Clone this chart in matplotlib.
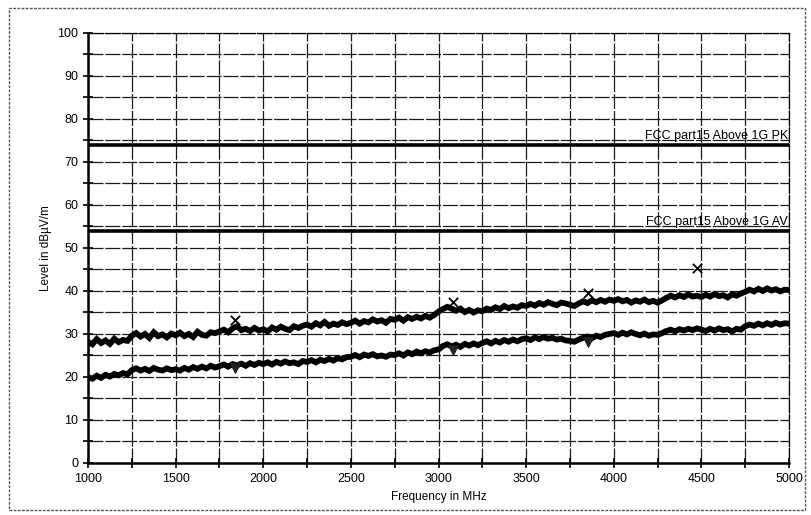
import numpy as np
import matplotlib.pyplot as plt
from matplotlib.patches import Rectangle

plt.rcParams['font.family'] = ['Liberation Sans', 'DejaVu Sans']

# frequency sweep, 25 MHz spacing between read-off points
freq = np.arange(1000, 5001, 25)

# peak trace (dBuV/m)
peak = [
    28.2, 27.6, 28.8, 27.9, 28.5, 27.7, 28.9, 28.1, 28.6, 28.4,
    29.6, 30.2, 29.4, 30.0, 29.1, 30.4, 29.5, 29.9, 29.2, 30.1,
    29.7, 30.3, 29.5, 30.0, 29.3, 30.5, 29.8, 29.6, 30.4, 30.2,
    30.6, 31.0, 30.4, 31.3, 31.8, 30.9, 31.2, 30.7, 31.4, 30.8,
    31.1, 30.6, 31.5, 31.0, 31.7, 31.2, 30.9, 31.8, 31.4, 31.9,
    32.2, 31.7, 32.5, 32.0, 32.8, 31.9, 32.4, 32.1, 32.7, 32.3,
    32.6, 33.1, 32.4, 33.0, 32.7, 33.4, 32.9, 33.2, 32.6, 33.5,
    33.3, 33.8, 33.1, 33.9, 33.5, 34.0, 33.6, 34.2, 33.8, 34.4,
    35.2, 35.8, 36.3, 35.9, 35.4, 35.9, 35.1, 35.6, 35.0, 35.5,
    35.3, 35.9, 35.6, 36.2, 35.8, 36.5, 36.0, 36.4, 36.1, 36.7,
    36.5, 37.0, 36.6, 37.2, 36.8, 37.4, 37.0, 36.7, 37.3, 37.1,
    36.8, 36.5, 37.1, 37.6, 37.2, 37.8, 37.4, 37.9, 37.5, 38.0,
    37.7, 38.1, 37.6, 37.9, 37.3, 37.8, 37.5, 38.0, 37.4, 37.7,
    37.3, 37.8, 38.4, 38.9, 38.5, 39.0, 38.6, 39.2, 38.7, 38.9,
    38.6, 39.1, 38.7, 39.3, 38.8, 39.0, 38.5, 39.2, 38.9, 39.4,
    39.8, 40.3, 39.9, 40.5, 40.0, 40.6, 40.1, 40.4, 39.9, 40.3,
    40.2,
]

# average trace (dBuV/m)
avg = [
    20.0, 19.6, 20.3, 19.8, 20.5, 20.1, 20.7, 20.4, 20.9, 20.6,
    21.6, 22.0, 21.5, 21.9, 21.4, 22.1, 21.7, 21.5, 22.0, 21.6,
    21.8, 21.5, 22.1, 21.7, 22.3, 21.9, 22.4, 22.0, 22.6, 22.2,
    22.5, 22.9, 22.4, 23.0, 22.7, 23.1, 22.6, 23.2, 22.8, 23.3,
    23.0, 23.4, 22.9, 23.5, 23.1, 23.6, 23.2, 23.4, 23.0, 23.7,
    23.5, 23.9, 23.4, 24.0, 23.7, 24.2, 23.8, 24.4, 24.1, 24.6,
    24.7, 25.1, 24.6, 25.2, 24.9, 25.3, 24.8, 25.0, 24.7, 25.2,
    25.1, 25.5, 25.0, 25.7, 25.3, 25.9, 25.5, 26.0, 25.7, 26.2,
    26.4, 27.2, 27.6, 27.1, 27.5, 27.0, 27.7, 27.3, 27.8, 27.4,
    27.9, 28.3, 27.8, 28.4, 28.0, 28.6, 28.2, 28.7, 28.3, 28.8,
    29.0, 28.6, 29.2, 28.8, 29.3, 28.9, 29.1, 28.7, 28.9, 28.5,
    28.4, 28.2, 28.7, 29.1, 29.4, 29.0, 29.6, 29.3, 29.8, 30.0,
    30.2, 29.8, 30.3, 29.9, 30.4, 30.0, 29.7, 30.1, 29.6, 29.9,
    29.8, 30.2, 30.7, 31.0, 30.6, 31.1, 30.8, 31.2, 30.9, 31.3,
    31.0, 30.7, 31.2, 30.8, 31.3, 30.9, 31.1, 30.6, 31.2, 31.0,
    31.8, 32.2, 31.9, 32.4, 32.0, 32.5, 32.1, 32.6, 32.2, 32.5,
    32.4,
]

# final measurement markers
pk_freq = [1840, 3085, 3855, 4475]
pk_level = [33.3, 37.4, 39.5, 45.3]
av_freq = [1840, 3085, 3855]
av_level = [22.0, 26.3, 28.1]

# limit lines
limit_pk = 74
limit_av = 54
limit_pk_label = "FCC part15 Above 1G PK"
limit_av_label = "FCC part15 Above 1G AV"

fig = plt.figure(figsize=(8.11, 5.15), dpi=100)
ax = fig.add_axes([0.1085, 0.101, 0.8644, 0.835])

fig.patches.append(Rectangle((0.011, 0.01), 0.982, 0.975, transform=fig.transFigure,
                             fill=False, edgecolor='#555555', linewidth=1.0, linestyle=(0, (2, 1))))

ax.set_xlim(1000, 5000)
ax.set_ylim(0, 100)

ax.set_xticks(np.arange(1000, 5001, 500))
ax.set_xticks(np.arange(1000, 5001, 250), minor=True)
ax.set_yticks(np.arange(0, 101, 10))
ax.set_yticks(np.arange(0, 101, 5), minor=True)

ax.grid(True, which='both', color='#1a1a1a', linewidth=0.9, linestyle=(0, (12, 1.5)))
ax.set_axisbelow(True)

ax.tick_params(which='both', direction='inout', length=7, width=1.2, labelsize=9)
ax.tick_params(axis='x', pad=4)

for s in ['left', 'bottom']:
    ax.spines[s].set_linewidth(1.8)
for s in ['top', 'right']:
    ax.spines[s].set_linewidth(0.9)
    ax.spines[s].set_linestyle((0, (12, 1.5)))

ax.plot(freq, peak, color='black', linewidth=4.2, solid_joinstyle='miter')
ax.plot(freq, avg, color='black', linewidth=4.2, solid_joinstyle='miter')

ax.axhline(limit_pk, color='black', linewidth=2.6)
ax.axhline(limit_av, color='black', linewidth=2.6)
ax.text(4995, limit_pk + 0.6, limit_pk_label, ha='right', va='bottom', fontsize=9)
ax.text(4995, limit_av + 0.6, limit_av_label, ha='right', va='bottom', fontsize=9)

ax.scatter(pk_freq, pk_level, marker='x', color='black', s=45, linewidths=1.3, zorder=5)
ax.scatter(av_freq, av_level, marker='v', color='#222222', s=45, zorder=5)

ax.set_xlabel("Frequency in MHz", fontsize=8.5)
ax.set_ylabel("Level in dBµV/m", fontsize=8.5)

fig.savefig("out.png", dpi=100)
